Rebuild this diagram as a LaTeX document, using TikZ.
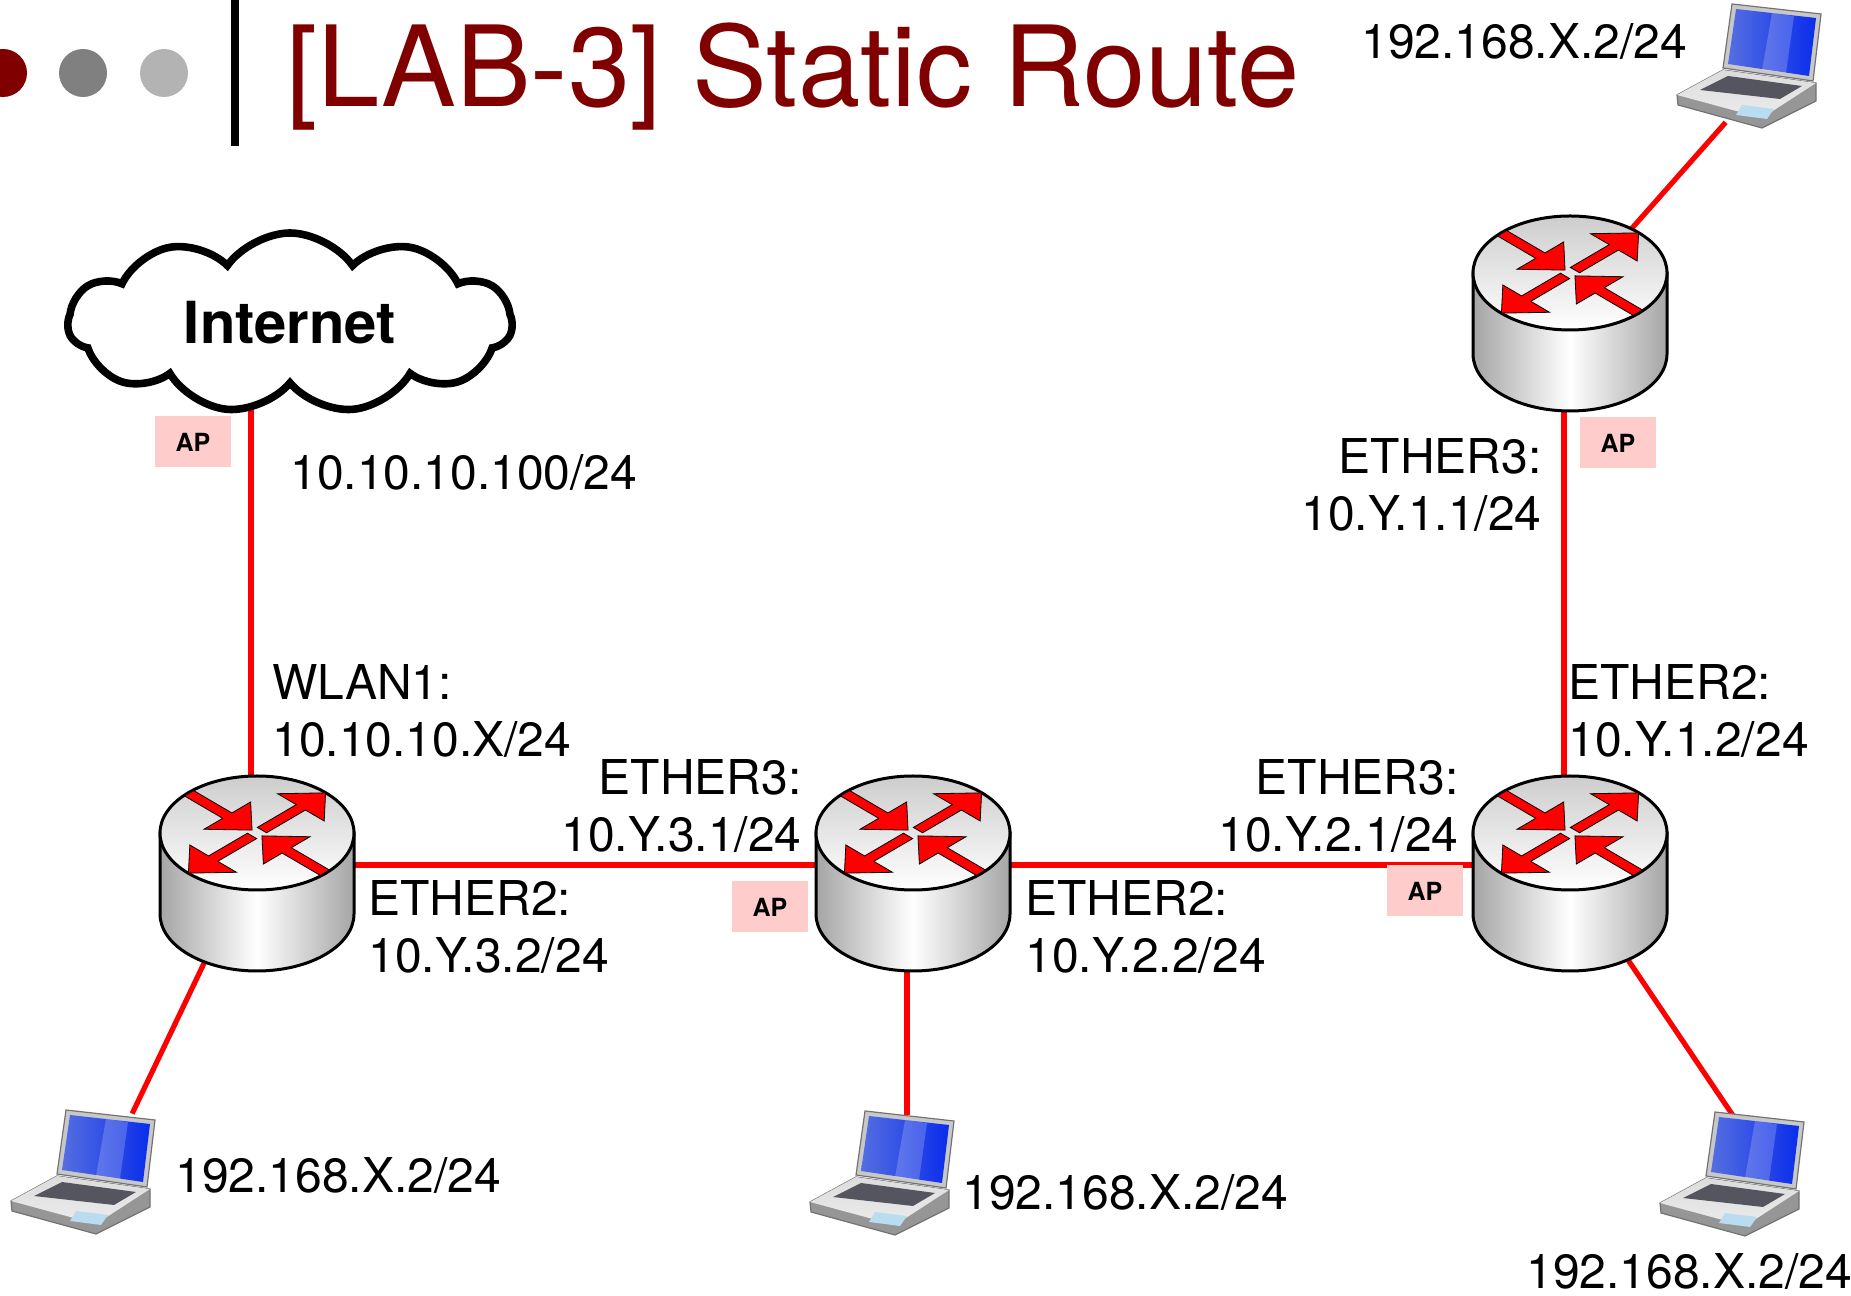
\documentclass[tikz,border=0pt]{standalone}
\usepackage{fontspec}
\setmainfont{TeX Gyre Heros}
\usetikzlibrary{shapes.symbols, backgrounds}

\definecolor{titlered}{RGB}{128,0,0}
\definecolor{dotgray}{RGB}{128,128,128}
\definecolor{dotlight}{RGB}{179,179,179}
\definecolor{linkred}{RGB}{255,0,0}
\definecolor{apfill}{RGB}{255,204,204}
\definecolor{rside}{RGB}{165,165,165}
\definecolor{rtop}{RGB}{205,205,205}
\definecolor{scrnleft}{RGB}{85,110,225}
\definecolor{scrnright}{RGB}{10,45,235}
\definecolor{bezel}{RGB}{200,200,200}
\definecolor{kbgray}{RGB}{85,85,95}
\definecolor{padblue}{RGB}{185,220,240}
\definecolor{basegray}{RGB}{220,220,220}
\definecolor{frontgray}{RGB}{150,150,150}
\definecolor{edgegray}{RGB}{115,115,115}

\tikzset{
  link/.style={draw=linkred, line width=2.6pt},
  iplabel/.style={inner sep=0pt, font=\fontsize{24pt}{28.5pt}\selectfont},
  apbox/.style={fill=apfill, minimum width=38pt, minimum height=25.5pt,
                inner sep=0pt, font=\fontsize{12.5pt}{14pt}\selectfont\bfseries},
  lapspot/.style={inner sep=0pt, minimum width=73pt, minimum height=57pt},
  redarrow/.style={fill=linkred, draw=black, line width=0.4pt},
  % router: grey cylinder with the four red arrows on its lid
  router/.pic={
    \begin{scope}[shift={(6,0)}]
      \path[draw=black, line width=1.5pt, left color=rside, right color=rside, middle color=white]
        (-97,32) -- (-97,-49) arc[start angle=180, end angle=360, x radius=97, y radius=57]
        -- (97,32) -- cycle;
      \path[draw=black, line width=1.5pt, top color=rtop, bottom color=white]
        (0,32) ellipse [x radius=97, y radius=57];
      \begin{scope}[shift={(0,32)}, yscale=0.585]
        \foreach \a in {-45,135}
          \path[redarrow, rotate=\a] (-96,-6.5) -- (-42,-6.5) -- (-42,-33) -- (-7,0)
            -- (-42,33) -- (-42,6.5) -- (-96,6.5) -- cycle;
        \foreach \a in {45,225}
          \path[redarrow, rotate=\a] (7,-6.5) -- (62,-6.5) -- (62,-33) -- (97,0)
            -- (62,33) -- (62,6.5) -- (7,6.5) -- cycle;
      \end{scope}
    \end{scope}
  },
  % laptop: open lid seen from the front left
  laptop/.pic={
    \path[fill=frontgray, draw=edgegray, line width=0.6pt]
      (-73,-30) -- (-27,-5) -- (66,-18) -- (66,-36) -- (12,-63) -- (-72,-40) -- cycle;
    \path[top color=basegray, bottom color=white!85!gray]
      (-73,-30) -- (-27,-5) -- (66,-18) -- (12,-53) -- cycle;
    \fill[kbgray] (-50,-25) -- (-22,-11) -- (52,-21) -- (30,-34) -- cycle;
    \fill[padblue] (-8,-40) -- (24,-44) -- (17,-54) -- (-14,-50) -- cycle;
    \path[fill=bezel, draw=edgegray, line width=0.6pt]
      (-18,61) -- (71,51) -- (63,-16) -- (-27,-3) -- cycle;
    \path[left color=scrnleft, right color=scrnright]
      (-14,56) -- (66,47) -- (59,-11) -- (-22,1) -- cycle;
    \fill[white, opacity=0.2] (22,52) -- (44,49) -- (36,-8) -- (12,-5) -- cycle;
  },
}

\begin{document}
\begin{tikzpicture}[x=0.5pt, y=0.5pt]
  \useasboundingbox (0,0) rectangle (1851,1295);

  % heading
  \fill[titlered] (3,1222) circle[radius=24];
  \fill[dotgray] (83,1222) circle[radius=24];
  \fill[dotlight] (164,1222) circle[radius=24];
  \fill[black] (231,1149) rectangle (239,1295);
  \node[anchor=base west, inner sep=0pt, text=titlered,
        font=\fontsize{56pt}{60pt}\selectfont] (title) at (286,1188) {[LAB-3] Static Route};

  % cloud
  \node[cloud, draw=black, fill=white, line width=3.8pt, cloud puffs=11, cloud puff arc=110,
        aspect=2.4, minimum width=222pt, minimum height=90pt, inner sep=0pt,
        font=\fontsize{29pt}{32pt}\selectfont\bfseries] (inet) at (290,972) {Internet};

  % routers and hosts
  \coordinate (r1) at (251,430);
  \coordinate (r2) at (907,430);
  \coordinate (r3) at (1564,430);
  \coordinate (r4) at (1564,990);
  \node[lapspot] (lap1) at (84,124) {};
  \node[lapspot] (lap2) at (883,123) {};
  \node[lapspot] (lap3) at (1733,122) {};
  \node[lapspot] (lap4) at (1750,1230) {};

  % cables
  \begin{scope}[on background layer]
    \draw[link] (r1 |- inet) -- (r1);
    \draw[link] (r1) -- (r2) -- (r3) -- (r4);
    \draw[link] (r1) -- (lap1.50);
    \draw[link] (r2) -- (r2 |- lap2.north);
    \draw[link] (r3) -- (lap3.north);
    \draw[link] (r4) -- (lap4.-113);
  \end{scope}

  \foreach \r in {r1,r2,r3,r4}
    \pic at (\r) {router};
  \foreach \l in {lap1,lap2,lap3,lap4}
    \pic at (\l) {laptop};

  \node[apbox] (ap1) at (193,853) {AP};
  \node[apbox] (ap2) at (770,388) {AP};
  \node[apbox] (ap3) at (1425,404) {AP};
  \node[apbox] (ap4) at (1618,852) {AP};

  % addresses
  \node[iplabel, anchor=base west] (inet-ip) at (290,805) {10.10.10.100/24};
  \node[iplabel, anchor=north west, align=left] (r1-wlan) at (272,631) {WLAN1:\\10.10.10.X/24};
  \node[iplabel, anchor=north west, align=left] (r1-eth2) at (368,415) {ETHER2:\\10.Y.3.2/24};
  \node[iplabel, anchor=north east, align=right] (r2-eth3) at (802,536) {ETHER3:\\10.Y.3.1/24};
  \node[iplabel, anchor=north west, align=left] (r2-eth2) at (1025,415) {ETHER2:\\10.Y.2.2/24};
  \node[iplabel, anchor=north east, align=right] (r3-eth3) at (1459,536) {ETHER3:\\10.Y.2.1/24};
  \node[iplabel, anchor=north west, align=left] (r3-eth2) at (1568,631) {ETHER2:\\10.Y.1.2/24};
  \node[iplabel, anchor=north east, align=right] (r4-eth3) at (1542,857) {ETHER3:\\10.Y.1.1/24};
  \node[iplabel, anchor=base west] (lap1-ip) at (175,103) {192.168.X.2/24};
  \node[iplabel, anchor=base west] (lap2-ip) at (962,85) {192.168.X.2/24};
  \node[iplabel, anchor=base west] (lap3-ip) at (1526,7) {192.168.X.2/24};
  \node[iplabel, anchor=base west] (lap4-ip) at (1361,1236) {192.168.X.2/24};
\end{tikzpicture}
\end{document}
